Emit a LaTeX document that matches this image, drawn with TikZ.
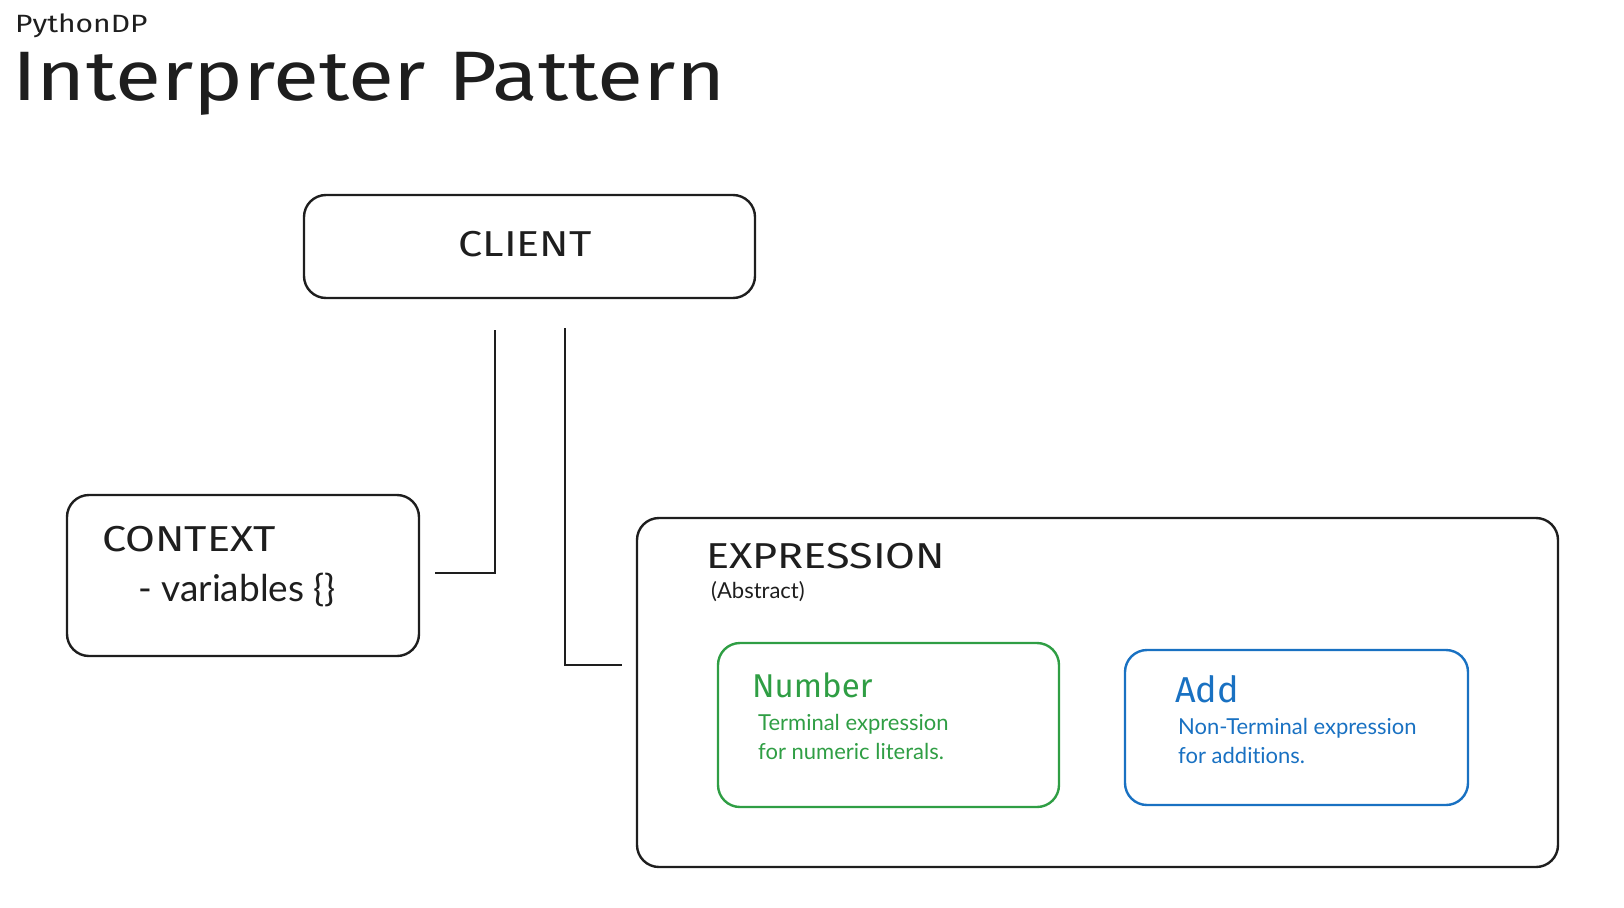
\documentclass[tikz,border=0pt]{standalone}
\usepackage{fontspec}
\setmainfont{Lato}[Ligatures=NoCommon]
\newfontfamily\handfont[FakeStretch=1.2]{Fira Sans}
\newfontfamily\handlower{Fira Sans}
\usepackage{tikz}
\usetikzlibrary{positioning}

\definecolor{ink}{HTML}{1E1E1E}
\definecolor{numgreen}{HTML}{2F9E44}
\definecolor{addblue}{HTML}{1971C2}

\tikzset{
  box/.style={draw=ink, line width=2.4pt, rounded corners=22pt, inner sep=0pt},
  wire/.style={draw=ink, line width=2pt},
  head/.style={inner sep=0pt, anchor=base west, font=\handfont\fontsize{36}{40}\selectfont},
  body/.style={inner sep=0pt, anchor=base west, font=\fontsize{22}{26}\selectfont}
}

\begin{document}
\begin{tikzpicture}[x=1pt,y=-1pt]
\useasboundingbox (0,0) rectangle (1624,907);

% title
\node (brand) [inner sep=0pt, anchor=base west, text=ink, font=\handfont\fontsize{25}{28}\selectfont] at (15,33) {PythonDP};
\node (title) [inner sep=0pt, anchor=base west, text=ink, font=\handfont\fontsize{70}{80}\selectfont] at (12,100) {Interpreter Pattern};

% boxes
\node (client) [box, minimum width=451pt, minimum height=103pt] at (529.5,246.5) {};
\node (context) [box, minimum width=352pt, minimum height=161pt] at (243,575.5) {};
\node (expr) [box, minimum width=921pt, minimum height=349pt] at (1097.5,692.5) {};
\node (number) [box, draw=numgreen, minimum width=341pt, minimum height=164pt] at (888.5,725) {};
\node (add) [box, draw=addblue, minimum width=343pt, minimum height=155pt] at (1296.5,727.5) {};

% labels
\node (clientlbl) [head, anchor=base, text=ink] at (525,256) {CLIENT};
\node (contextlbl) [head, text=ink] at (102,551) {CONTEXT};
\node (varslbl) [inner sep=0pt, anchor=base west, text=ink, font=\fontsize{37}{40}\selectfont] at (138,601) {- variables \{\}};
\node (exprlbl) [head, text=ink] at (706,568) {EXPRESSION};
\node (abslbl) [inner sep=0pt, anchor=base west, text=ink, font=\fontsize{22}{26}\selectfont] at (711,598) {(Abstract)};
\node (numlbl) [head, font=\handlower\fontsize{33}{40}\selectfont, text=numgreen] at (752,697) {Number};
\node (numtxt1) [body, text=numgreen] at (758,730) {Terminal expression};
\node (numtxt2) [body, text=numgreen] at (758,759) {for numeric literals.};
\node (addlbl) [head, font=\handlower\fontsize{36}{40}\selectfont, text=addblue] at (1175,702) {Add};
\node (addtxt1) [body, text=addblue] at (1178,734) {Non-Terminal expression};
\node (addtxt2) [body, text=addblue] at (1178,763) {for additions.};

% connectors
\coordinate (ctxtop) at (495,330);
\coordinate (ctxend) at (435,573);
\coordinate (exptop) at (565,328);
\coordinate (expend) at (622,665);
\draw [wire] (ctxtop) |- (ctxend);
\draw [wire] (exptop) |- (expend);

\end{tikzpicture}
\end{document}
